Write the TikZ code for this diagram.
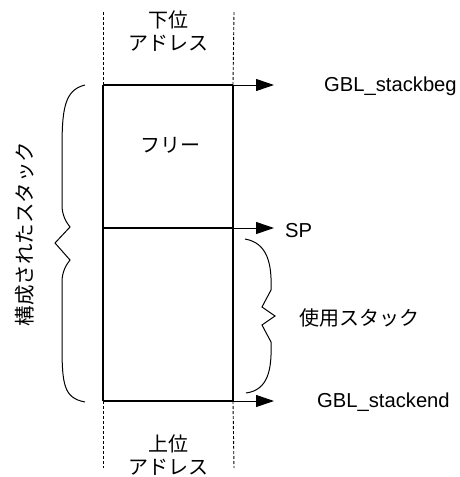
\documentclass[tikz,border=0pt]{standalone}
\usepackage{fontspec}
\setmainfont{Liberation Sans}
\newfontfamily\jp{Noto Sans CJK JP}
\usetikzlibrary{arrows.meta}
\begin{document}
\begin{tikzpicture}[x=1pt,y=-1pt,
  thickline/.style={line width=2pt},
  boxline/.style={line width=1.4pt},
  guide/.style={line width=0.9pt, dash pattern=on 3pt off 2pt},
  arr/.style={line width=1pt, -{Triangle[length=18pt,width=12pt]}},
  brc/.style={line width=1pt},
  lat/.style={font=\fontsize{20.2}{23}\selectfont, inner sep=0pt},
  jpt/.style={font=\jp\fontsize{20}{23}\selectfont, inner sep=0pt, align=center}]
\useasboundingbox (0,0) rectangle (459,477);
% corners
\coordinate (tl) at (103,85);
\coordinate (tr) at (233,85);
\coordinate (ml) at (103,228);
\coordinate (mr) at (233,228);
\coordinate (bl) at (103,401);
\coordinate (br) at (233,401);
\coordinate (gtl) at (103,12);
\coordinate (gtr) at (234,12);
\coordinate (gbl) at (103,468);
\coordinate (gbr) at (234,468);
\coordinate (a1) at (274,85);
\coordinate (a2) at (274,228);
\coordinate (a3) at (274,401);
% guides
\draw[guide] (gtl) -- (tl);
\draw[guide] (gtr) -- (tr);
\draw[guide] (bl) -- (gbl);
\draw[guide] (br) -- (gbr);
% box
\draw[boxline] (tr) -- (br);
\draw[boxline] (ml) -- (mr);
\draw[thickline] (tl) -- (tr);
\draw[thickline] (bl) -- (br);
\draw[thickline] (tl) -- (bl);
% arrows
\draw[arr] (tr) -- (a1);
\draw[arr] (mr) -- (a2);
\draw[arr] (br) -- (a3);
% labels
\node[jpt] (lowaddr) at (168,31) {下位\\アドレス};
\node[jpt] (highaddr) at (168,455) {上位\\アドレス};
\node[jpt] (free) at (170,145) {フリー};
\node[jpt] (used) at (359,318) {使用スタック};
\node[jpt, rotate=90, font=\jp\fontsize{20.5}{22}\selectfont] (built) at (25,234) {構成されたスタック};
\node[lat, anchor=west] (beg) at (324,86) {GBL\_stackbeg};
\node[lat, anchor=west] (sp) at (285,231) {SP};
\node[lat, anchor=west] (end) at (317,402) {GBL\_stackend};
% braces
\draw[brc] (85,85) .. controls (64,90) and (62,110) .. (62,150) -- (62,205)
  .. controls (62,215) and (66,222) .. (70,227) -- (55,243) -- (70,260)
  .. controls (66,265) and (62,272) .. (62,282) -- (62,345)
  .. controls (62,385) and (64,398) .. (85,402);
\draw[brc] (245,239) .. controls (268,243) and (272,265) .. (271,290)
  -- (262,307) -- (275,316) -- (262,325) -- (271,342)
  .. controls (272,370) and (268,390) .. (246,393);
\end{tikzpicture}
\end{document}
